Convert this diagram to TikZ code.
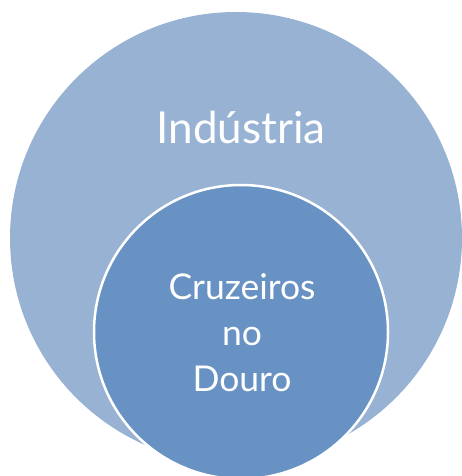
\documentclass[tikz,border=0pt]{standalone}
\usepackage{fontspec}
\setmainfont{Lato}
\definecolor{outerblue}{HTML}{98B2D4}
\definecolor{innerblue}{HTML}{6892C4}
\begin{document}
\begin{tikzpicture}[x=1pt,y=1pt]
		\useasboundingbox (0,0) rectangle (462,-476);
		\begin{scope}[every node/.style={circle,inner sep=0pt}]
		\node[fill=outerblue, minimum size=452pt] (industria) at (236,-238) {};
		\node[fill=innerblue, draw=white, line width=2.5pt, minimum size=294pt] (cruzeiros) at (241,-332) {};
		\end{scope}
		
		\node[text=white, font=\fontsize{44}{50}\selectfont, anchor=base, inner sep=0pt] (indlabel) at (241,-143) {Indústria};
		\node[text=white, font=\fontsize{35.5}{46}\selectfont, align=center, inner sep=0pt] (cruzlabel) at (242,-333) {Cruzeiros\\no\\Douro};
		\end{tikzpicture}
\end{document}
